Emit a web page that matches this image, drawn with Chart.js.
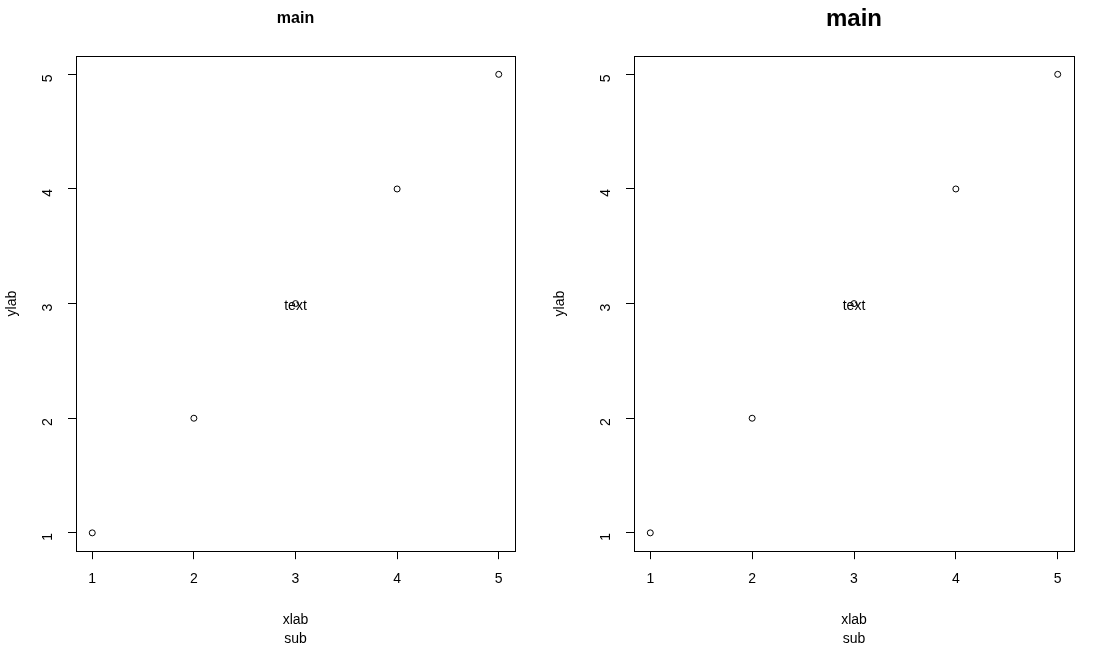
<!DOCTYPE html>
<html>
<head>
<meta charset="utf-8">
<script src="https://cdn.jsdelivr.net/npm/chart.js@4.4.0/dist/chart.umd.min.js"></script>
<style>
  body { margin: 0; background: #fff; }
  #wrap { display: flex; width: 1096px; height: 646px; }
  canvas { display: block; }
</style>
</head>
<body>
<div id="wrap">
  <canvas id="left" width="548" height="646"></canvas>
  <canvas id="right" width="548" height="646"></canvas>
</div>
<script>
// data
var xValues = [1, 2, 3, 4, 5];
var yValues = [1, 2, 3, 4, 5];
var tickValues = [1, 2, 3, 4, 5];
var axisMin = 0.84, axisMax = 5.16;
var noteText = 'text';
var notePos = [3, 3];

var FONT = '"Liberation Sans", Arial, sans-serif';

// box around the plot + the "text" label
var boxPlugin = {
  id: 'rbox',
  afterDatasetsDraw: function(chart) {
    var ctx = chart.ctx, a = chart.chartArea;
    ctx.save();
    ctx.strokeStyle = '#000';
    ctx.lineWidth = 1;
    ctx.strokeRect(Math.round(a.left) + 0.5, Math.round(a.top) + 0.5,
      Math.round(a.right - a.left), Math.round(a.bottom - a.top));
    ctx.fillStyle = '#000';
    ctx.font = '14px ' + FONT;
    ctx.textAlign = 'center';
    ctx.textBaseline = 'middle';
    ctx.fillText(noteText, chart.scales.x.getPixelForValue(notePos[0]),
      chart.scales.y.getPixelForValue(notePos[1]) + 3);
    ctx.restore();
  }
};

function setTicks(scale) {
  scale.ticks = tickValues.map(function(v) { return {value: v}; });
}

function makeChart(id, titleSize, titlePad, yWidth, padRight) {
  var pts = xValues.map(function(x, i) { return {x: x, y: yValues[i]}; });
  return new Chart(document.getElementById(id), {
    type: 'scatter',
    data: {
      datasets: [{
        data: pts,
        pointStyle: 'circle',
        pointRadius: 3,
        borderWidth: 1,
        borderColor: '#000',
        backgroundColor: 'rgba(0,0,0,0)'
      }]
    },
    options: {
      responsive: false,
      animation: false,
      devicePixelRatio: 1,
      layout: { padding: { left: 0, right: padRight, top: 0, bottom: 0 } },
      plugins: {
        legend: { display: false },
        tooltip: { enabled: false },
        title: {
          display: true,
          fullSize: false,
          text: 'main',
          color: '#000',
          font: { family: FONT, size: titleSize, weight: 'bold' },
          padding: titlePad
        },
        subtitle: {
          display: true,
          fullSize: false,
          text: 'sub',
          position: 'bottom',
          color: '#000',
          font: { family: FONT, size: 14 },
          padding: { top: 2, bottom: -2 }
        }
      },
      scales: {
        x: {
          type: 'linear',
          min: axisMin,
          max: axisMax,
          afterBuildTicks: setTicks,
          afterFit: function(s) { s.height = 78; },
          border: { display: false },
          grid: { drawOnChartArea: false, drawTicks: true, tickLength: 8, color: '#000' },
          ticks: { color: '#000', font: { family: FONT, size: 14 }, padding: 12, maxRotation: 0 },
          title: { display: true, text: 'xlab', color: '#000',
                   font: { family: FONT, size: 14 }, padding: { top: 0, bottom: 1 } }
        },
        y: {
          type: 'linear',
          min: axisMin,
          max: axisMax,
          afterBuildTicks: setTicks,
          afterFit: function(s) { s.width = yWidth; },
          border: { display: false },
          grid: { drawOnChartArea: false, drawTicks: true, tickLength: 8, color: '#000' },
          ticks: { color: '#000', font: { family: FONT, size: 14 }, padding: 20,
                   minRotation: 90, maxRotation: 90 },
          title: { display: true, text: 'ylab', color: '#000',
                   font: { family: FONT, size: 14 }, padding: { top: 4, bottom: 4 } }
        }
      }
    },
    plugins: [boxPlugin]
  });
}

makeChart('left', 16, { top: 9, bottom: 27.8 }, 76, 33);
makeChart('right', 24, { top: 5, bottom: 22.2 }, 86, 22);
</script>
</body>
</html>
